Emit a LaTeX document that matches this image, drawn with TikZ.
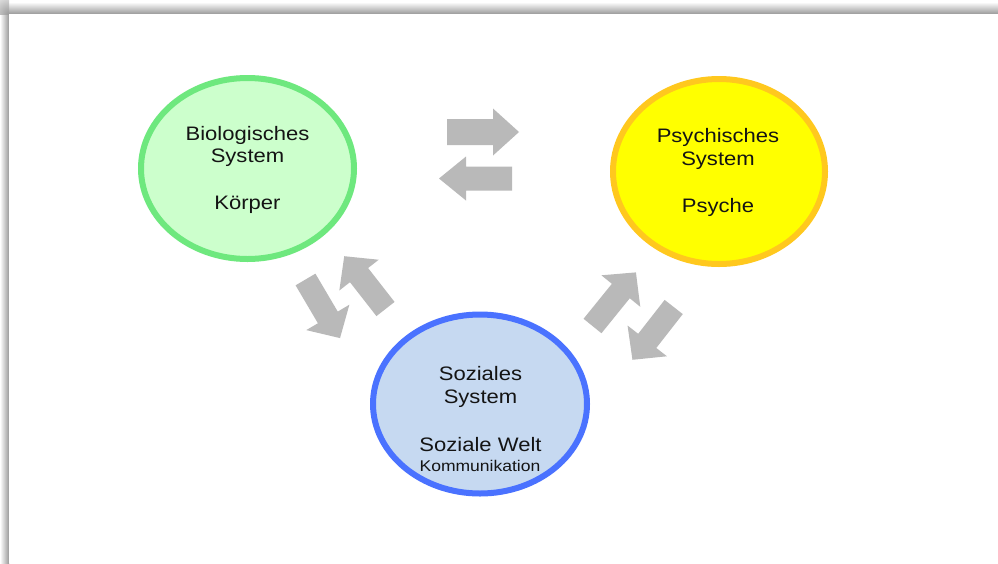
\documentclass[tikz,border=0pt]{standalone}
\usepackage{fontspec}
\setmainfont{Liberation Sans}[FakeStretch=1.13]
\usetikzlibrary{shapes.geometric,shadows}

\definecolor{bioline}{RGB}{110,232,126}
\definecolor{biofill}{RGB}{204,255,204}
\definecolor{psyline}{RGB}{255,200,30}
\definecolor{psyfill}{RGB}{255,255,0}
\definecolor{sozline}{RGB}{74,114,255}
\definecolor{sozfill}{RGB}{198,217,241}
\definecolor{arrowgray}{RGB}{185,185,185}
\definecolor{inkgray}{RGB}{20,20,20}

\tikzset{
  % block arrow: length, half shaft width, half head width, head length
  pics/blockarrow/.style n args={4}{code={
    \fill[arrowgray] (0,-#2) -- ({#1-#4},-#2) -- ({#1-#4},-#3) -- (#1,0)
      -- ({#1-#4},#3) -- ({#1-#4},#2) -- (0,#2) -- cycle;
  }},
  sysellipse/.style={ellipse, line width=6pt, inner sep=0pt,
    drop shadow={shadow xshift=0pt, shadow yshift=-2.5pt, opacity=0.22}},
  systext/.style={font=\fontsize{19.5}{23}\selectfont, text=inkgray,
    anchor=base, inner sep=0pt},
  smalltext/.style={systext, font=\fontsize{15.5}{18}\selectfont},
}

\begin{document}
\begin{tikzpicture}[x=1pt,y=-1pt]
\useasboundingbox (0,0) rectangle (998,563);

% sheet with its shadow along the top and left edges
\fill[white] (0,0) rectangle (998,563);
\shade[top color=white, bottom color=black!40] (9,2) rectangle (998,14);
\shade[left color=white, right color=black!40] (0,14) rectangle (9,563);
\begin{scope}
  \clip (0,0) rectangle (9,14);
  \shade[inner color=black!40, outer color=white] (9,14) circle (26);
\end{scope}
\fill[white] (9,14) rectangle (998,563);

% the three systems
\node[sysellipse, draw=bioline, fill=biofill,
      minimum width=213pt, minimum height=181pt] (bio) at (247.5,168.5) {};
\node[sysellipse, draw=psyline, fill=psyfill,
      minimum width=212pt, minimum height=185pt] (psy) at (719,171.5) {};
\node[sysellipse, draw=sozline, fill=sozfill,
      minimum width=214pt, minimum height=179pt] (soz) at (480,404) {};

\node[systext] (bioA) at (247.5,140) {Biologisches};
\node[systext] (bioB) at (247.5,162.5) {System};
\node[systext] (bioC) at (247.5,209.5) {Körper};

\node[systext] (psyA) at (718,142.7) {Psychisches};
\node[systext] (psyB) at (718,165) {System};
\node[systext] (psyC) at (718,212.7) {Psyche};

\node[systext] (sozA) at (480.5,380.7) {Soziales};
\node[systext] (sozB) at (480.5,403.3) {System};
\node[systext] (sozC) at (480.5,451.7) {Soziale Welt};
\node[smalltext] (sozD) at (480,471.7) {Kommunikation};

% exchange arrows between the systems
\pic[rotate=0]    at (447,132)     {blockarrow={72}{13}{23.5}{26}};
\pic[rotate=180]  at (512,178.5)   {blockarrow={73}{12}{22}{27}};
\pic[rotate=-59.5] at (305.5,279.5) {blockarrow={68}{11.5}{25}{24}};
\pic[rotate=128]  at (385.5,309)   {blockarrow={67}{11.5}{25}{24}};
\pic[rotate=51]   at (592.5,326)   {blockarrow={69}{11.5}{25}{24}};
\pic[rotate=-128] at (673.7,307)   {blockarrow={67}{11.5}{25}{24}};
\end{tikzpicture}
\end{document}
